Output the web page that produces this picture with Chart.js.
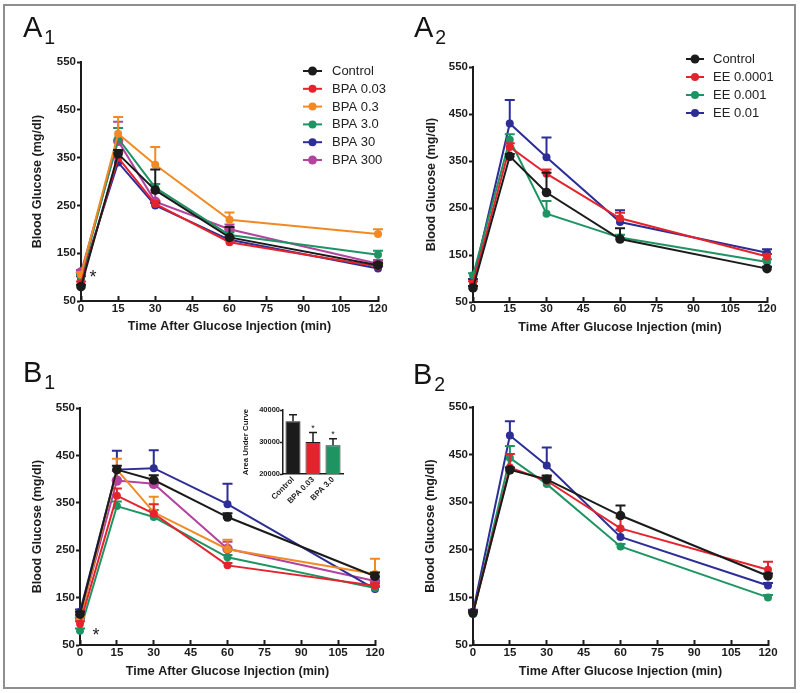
<!DOCTYPE html>
<html>
<head>
<meta charset="utf-8">
<script src="https://cdn.jsdelivr.net/npm/chart.js@4.4.1/dist/chart.umd.min.js"></script>
<style>
  html, body { margin: 0; padding: 0; background: #fff; }
  body { width: 800px; height: 693px; position: relative; overflow: hidden; font-family: "Liberation Sans", Arial, sans-serif; }
  .frame { position: absolute; left: 3px; top: 4px; width: 789px; height: 681px; border: 2px solid #8e8e8e; }
  canvas { position: absolute; }
  .lab { position: absolute; font-size: 29px; line-height: 1; color: #141414; white-space: nowrap; }
  .lab span { font-size: 19.5px; position: relative; top: 7px; margin-left: 2px; }
</style>
</head>
<body>
<div class="frame"></div>
<canvas id="cA1" width="400" height="346" style="left:0px;top:0px"></canvas>
<canvas id="cA2" width="400" height="346" style="left:400px;top:0px"></canvas>
<canvas id="cB1" width="400" height="347" style="left:0px;top:346px"></canvas>
<canvas id="cB2" width="400" height="347" style="left:400px;top:346px"></canvas>
<canvas id="cInset" width="112" height="115" style="left:236px;top:400px"></canvas>
<div class="lab" style="left:23px;top:13px">A<span>1</span></div>
<div class="lab" style="left:414px;top:13px">A<span>2</span></div>
<div class="lab" style="left:23px;top:358px">B<span>1</span></div>
<div class="lab" style="left:413px;top:360px">B<span>2</span></div>
<script>
// ---------------- DATA ----------------
const TIMES = [0, 15, 30, 60, 120];
const BPA_LABELS = ['Control', 'BPA 0.03', 'BPA 0.3', 'BPA 3.0', 'BPA 30', 'BPA 300'];
const EE_LABELS = ['Control', 'EE 0.0001', 'EE 0.001', 'EE 0.01'];

// A1: BPA (mean blood glucose, mg/dl), rows follow BPA_LABELS
const A1_VALUES = [
  [80, 358, 282, 183, 125],
  [87, 350, 253, 173, 122],
  [105, 400, 335, 220, 190],
  [100, 390, 287, 188, 147],
  [97, 340, 250, 178, 118],
  [110, 385, 258, 200, 128]
];
const A1_SEM = [
  [4, 8, 43, 22, 5],
  [4, 10, 6, 5, 4],
  [5, 35, 37, 15, 10],
  [5, 22, 8, 6, 8],
  [5, 22, 5, 6, 4],
  [5, 40, 18, 10, 8]
];

// A2: EE, rows follow EE_LABELS
const A2_VALUES = [
  [80, 360, 283, 184, 121],
  [90, 380, 323, 228, 147],
  [107, 395, 238, 187, 135],
  [95, 430, 358, 220, 155]
];
const A2_SEM = [
  [4, 5, 42, 23, 4],
  [4, 8, 9, 12, 5],
  [4, 12, 27, 6, 6],
  [4, 50, 42, 25, 7]
];

// B1: BPA, rows follow BPA_LABELS
const B1_VALUES = [
  [115, 420, 398, 320, 195],
  [95, 365, 327, 218, 175],
  [105, 420, 330, 252, 200],
  [80, 343, 320, 235, 170],
  [120, 420, 423, 347, 168],
  [108, 397, 390, 253, 185]
];
const B1_SEM = [
  [5, 8, 10, 8, 8],
  [5, 15, 20, 5, 5],
  [5, 23, 33, 20, 32],
  [5, 10, 15, 5, 5],
  [5, 40, 38, 43, 5],
  [5, 20, 8, 15, 8]
];

// B2: EE, rows follow EE_LABELS
const B2_VALUES = [
  [117, 418, 398, 322, 195],
  [118, 423, 395, 295, 208],
  [115, 443, 388, 257, 150],
  [120, 490, 427, 277, 175]
];
const B2_SEM = [
  [4, 5, 8, 21, 5],
  [4, 28, 10, 23, 17],
  [4, 25, 15, 5, 5],
  [4, 30, 38, 15, 5]
];

// Inset: area under curve
const AUC_LABELS = ['Control', 'BPA 0.03', 'BPA 3.0'];
const AUC_VALUES = [36500, 30000, 29000];
const AUC_SEM = [2000, 3000, 2000];
const AUC_SIGNIFICANT = [false, true, true];

// ---------------- STYLE ----------------
const C_BLACK = '#1b1b1b', C_RED = '#e4232d', C_ORANGE = '#f18a24', C_GREEN = '#1e9463', C_BLUE = '#2c2d97', C_MAGENTA = '#b2449f';
const BPA_COLORS = [C_BLACK, C_RED, C_ORANGE, C_GREEN, C_BLUE, C_MAGENTA];
const EE_COLORS = [C_BLACK, C_RED, C_GREEN, C_BLUE];
const BPA_RADII = [4.8, 4, 4, 4, 4, 5.2];
const EE_RADII = [4.8, 4, 4, 4];
const FONT = '"Liberation Sans", Arial, Helvetica, sans-serif';
const INK = '#1c1c1c';
Chart.defaults.font.family = FONT;
Chart.defaults.color = INK;

// ---------------- PLUGINS ----------------
const errorBars = {
  id: 'errorBars',
  beforeDatasetDraw(chart, args) {
    const ds = chart.data.datasets[args.index];
    if (!ds.sem || ds.errAfter) return;
    drawErr(chart, args.index, ds);
  },
  afterDatasetDraw(chart, args) {
    const ds = chart.data.datasets[args.index];
    if (!ds.sem || !ds.errAfter) return;
    drawErr(chart, args.index, ds);
  }
};
function drawErr(chart, idx, ds) {
  const meta = chart.getDatasetMeta(idx);
  const ys = chart.scales.y;
  const ctx = chart.ctx;
  ctx.save();
  ctx.strokeStyle = ds.errColor || ds.borderColor;
  ctx.lineWidth = ds.errWidth || 2;
  const cw = ds.capHalf || 5;
  meta.data.forEach((el, j) => {
    const d = ds.data[j];
    const v = (typeof d === 'object') ? d.y : d;
    const e = ds.sem[j];
    if (!e) return;
    const x = el.x;
    const y0 = ys.getPixelForValue(v);
    const y1 = ys.getPixelForValue(v + e);
    ctx.beginPath();
    ctx.moveTo(x, y0); ctx.lineTo(x, y1);
    ctx.moveTo(x - cw, y1); ctx.lineTo(x + cw, y1);
    ctx.stroke();
  });
  ctx.restore();
}

const floatLegend = {
  id: 'floatLegend',
  afterDraw(chart, args, o) {
    if (!o || !o.show) return;
    const ctx = chart.ctx;
    ctx.save();
    chart.data.datasets.forEach((ds, i) => {
      const y = o.y + i * o.dy;
      ctx.strokeStyle = ds.borderColor;
      ctx.lineWidth = 2;
      ctx.beginPath(); ctx.moveTo(o.x, y); ctx.lineTo(o.x + o.len, y); ctx.stroke();
      ctx.fillStyle = ds.borderColor;
      ctx.beginPath(); ctx.arc(o.x + o.len / 2, y, Math.min(ds.pointRadius, 4.5), 0, Math.PI * 2); ctx.fill();
      ctx.fillStyle = '#222';
      ctx.font = '13px ' + FONT;
      ctx.textBaseline = 'middle';
      ctx.textAlign = 'left';
      ctx.fillText(ds.label, o.x + o.len + o.gap, y + 0.5);
    });
    ctx.restore();
  }
};

const sigMark = {
  id: 'sigMark',
  afterDraw(chart, args, o) {
    if (!o || !o.show) return;
    const ctx = chart.ctx;
    const el = chart.getDatasetMeta(o.series).data[0];
    ctx.save();
    ctx.fillStyle = INK;
    ctx.font = o.size + 'px ' + FONT;
    ctx.textAlign = 'center';
    ctx.textBaseline = 'alphabetic';
    ctx.fillText('*', el.x + o.dx, el.y + o.size * 0.57);
    ctx.restore();
  }
};

const barStars = {
  id: 'barStars',
  afterDraw(chart, args, o) {
    if (!o || !o.show) return;
    const ctx = chart.ctx;
    const ds = chart.data.datasets[0];
    const meta = chart.getDatasetMeta(0);
    const ys = chart.scales.y;
    ctx.save();
    ctx.fillStyle = INK;
    ctx.font = '9px ' + FONT;
    ctx.textAlign = 'center';
    ctx.textBaseline = 'alphabetic';
    meta.data.forEach((el, j) => {
      if (!o.flags[j]) return;
      const top = ys.getPixelForValue(ds.data[j] + ds.sem[j]);
      ctx.fillText('*', el.x, top - 1.5);
    });
    ctx.restore();
  }
};

// ---------------- PANELS ----------------
function linePanel(id, labels, colors, radii, values, sems, g, extra) {
  const datasets = labels.map((lab, i) => ({
    label: lab,
    data: TIMES.map((t, k) => ({ x: t, y: values[i][k] })),
    sem: sems[i],
    borderColor: colors[i],
    backgroundColor: colors[i],
    pointBackgroundColor: colors[i],
    pointBorderColor: colors[i],
    pointBorderWidth: 0,
    pointRadius: radii[i],
    borderWidth: 2,
    tension: 0,
    clip: false
  }));
  const tickFont = { size: 11.5, weight: 'bold', family: FONT };
  const titleFont = { size: 12.5, weight: 'bold', family: FONT };
  return new Chart(document.getElementById(id), {
    type: 'line',
    data: { datasets },
    plugins: [errorBars, floatLegend, sigMark],
    options: {
      responsive: false,
      animation: false,
      devicePixelRatio: 1,
      layout: { padding: { left: 0, top: g.padTop, right: g.padRight, bottom: g.padBottom } },
      plugins: {
        legend: { display: false },
        tooltip: { enabled: false },
        floatLegend: extra.legend || { show: false },
        sigMark: extra.sig || { show: false }
      },
      scales: {
        x: {
          type: 'linear', min: 0, max: 120,
          ticks: { stepSize: 15, autoSkip: false, maxRotation: 0, font: tickFont, color: INK, padding: g.xTickPad },
          grid: { drawOnChartArea: false, drawTicks: true, tickLength: -5, tickColor: INK, tickWidth: 2 },
          border: { color: INK, width: 2 },
          title: { display: true, text: 'Time After Glucose Injection (min)', font: titleFont, color: INK, padding: { top: 0, bottom: 0 } },
          afterFit(s) { s.height = g.xH; }
        },
        y: {
          type: 'linear', min: 50, max: 550,
          ticks: { stepSize: 100, font: tickFont, color: INK, padding: 1 },
          grid: { drawOnChartArea: false, drawTicks: true, tickLength: 4, tickColor: INK, tickWidth: 2 },
          border: { color: INK, width: 2 },
          title: { display: true, text: 'Blood Glucose (mg/dl)', font: titleFont, color: INK, padding: { top: g.yTitlePad, bottom: 0 } },
          afterFit(s) { s.width = g.yW; }
        }
      }
    }
  });
}

linePanel('cA1', BPA_LABELS, BPA_COLORS, BPA_RADII, A1_VALUES, A1_SEM,
  { padTop: 62, padRight: 22, padBottom: 12, yW: 81, xH: 33, yTitlePad: 30.5, xTickPad: 6 },
  { legend: { show: true, x: 303, y: 71, dy: 17.8, len: 19, gap: 10 },
    sig: { show: true, series: 5, dx: 12, size: 18 } });

linePanel('cA2', EE_LABELS, EE_COLORS, EE_RADII, A2_VALUES, A2_SEM,
  { padTop: 67, padRight: 33, padBottom: 11, yW: 73, xH: 33, yTitlePad: 24.5, xTickPad: 5 },
  { legend: { show: true, x: 286, y: 59, dy: 18, len: 18, gap: 9 } });

linePanel('cB1', BPA_LABELS, BPA_COLORS, BPA_RADII, B1_VALUES, B1_SEM,
  { padTop: 62, padRight: 25, padBottom: 14, yW: 80, xH: 34, yTitlePad: 30.5, xTickPad: 6 },
  { sig: { show: true, series: 3, dx: 16, size: 18 } });

linePanel('cB2', EE_LABELS, EE_COLORS, EE_RADII, B2_VALUES, B2_SEM,
  { padTop: 61, padRight: 32, padBottom: 14, yW: 73, xH: 34, yTitlePad: 23.5, xTickPad: 6 },
  {});

// ---------------- INSET ----------------
new Chart(document.getElementById('cInset'), {
  type: 'bar',
  data: {
    labels: AUC_LABELS,
    datasets: [{
      data: AUC_VALUES,
      sem: AUC_SEM,
      errAfter: true,
      errColor: INK,
      errWidth: 1.5,
      capHalf: 4,
      backgroundColor: [C_BLACK, C_RED, C_GREEN],
      borderColor: INK,
      borderWidth: 1,
      barPercentage: 0.75,
      categoryPercentage: 1
    }]
  },
  plugins: [errorBars, barStars],
  options: {
    responsive: false,
    animation: false,
    devicePixelRatio: 1,
    layout: { padding: { left: 0, top: 10, right: 5, bottom: 1 } },
    plugins: {
      legend: { display: false },
      tooltip: { enabled: false },
      barStars: { show: true, flags: AUC_SIGNIFICANT }
    },
    scales: {
      x: {
        ticks: { font: { size: 8, weight: 'bold', family: FONT }, color: INK, minRotation: 45, maxRotation: 45, padding: 1, autoSkip: false },
        grid: { drawOnChartArea: false, drawTicks: false },
        border: { color: INK, width: 1.5 },
        afterFit(s) { s.height = 40; }
      },
      y: {
        min: 20000, max: 40000,
        ticks: { stepSize: 10000, font: { size: 7.5, weight: 'bold', family: FONT }, color: INK, padding: 0, callback: v => String(v) },
        grid: { drawOnChartArea: false, drawTicks: true, tickLength: 3, tickColor: INK, tickWidth: 1.5 },
        border: { color: INK, width: 1.5 },
        title: { display: true, text: 'Area Under Curve', font: { size: 7.8, weight: 'bold', family: FONT }, color: INK, padding: { top: 5, bottom: 0 } },
        afterFit(s) { s.width = 47; }
      }
    }
  }
});
</script>
</body>
</html>
